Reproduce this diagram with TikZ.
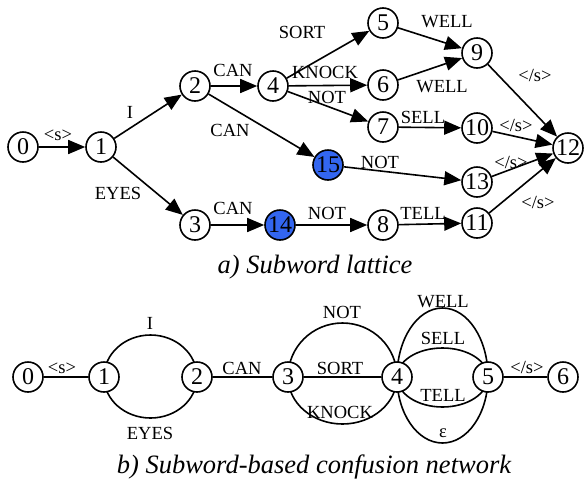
\documentclass[tikz,border=0pt]{standalone}
\usepackage{fontspec}
\setmainfont{Liberation Serif}
\usetikzlibrary{arrows.meta,backgrounds}
\definecolor{nodeblue}{RGB}{51,102,240}
\begin{document}
\begin{tikzpicture}[x=1pt,y=-1pt,
  st/.style={circle,draw,line width=1.6pt,fill=white,minimum size=30pt,inner sep=0pt,font=\fontsize{24}{24}\selectfont},
  bl/.style={st,fill=nodeblue},
  arr/.style={line width=1.6pt,-{Triangle[length=17pt,width=14pt]}},
  ln/.style={line width=1.6pt},
  lab/.style={font=\fontsize{18.5}{18.5}\selectfont,inner sep=0pt},
  captxt/.style={font=\fontsize{26.5}{27}\selectfont\itshape,inner sep=0pt}]
\useasboundingbox (0,0) rectangle (584,488);
% ---------- a) lattice ----------
\node[st] (a0) at (23,147) {0};
\node[st] (a1) at (101,147) {1};
\node[st] (a2) at (195,86) {2};
\node[st] (a3) at (195,225) {3};
\node[st] (a4) at (273,86) {4};
\node[bl] (a14) at (280,225) {14};
\node[bl] (a15) at (328,165) {15};
\node[st] (a5) at (383,23) {5};
\node[st] (a6) at (383,85) {6};
\node[st] (a7) at (383,127) {7};
\node[st] (a8) at (383,225) {8};
\node[st] (a9) at (477,53) {9};
\node[st] (a10) at (477,128) {10};
\node[st] (a13) at (477,182) {13};
\node[st] (a11) at (477,223) {11};
\node[st] (a12) at (568,148) {12};

\draw[arr] (a0) -- (a1);
\draw[arr] (a1) -- (a2);
\draw[arr] (a1) -- (a3);
\draw[arr] (a2) -- (a4);
\draw[arr] (a2) -- (a15);
\draw[arr] (a3) -- (a14);
\draw[arr] (a4) -- (a5);
\draw[arr] (a4) -- (a6);
\draw[arr] (a4) -- (a7);
\draw[arr] (a5) -- (a9);
\draw[arr] (a6) -- (a9);
\draw[arr] (a7) -- (a10);
\draw[arr] (a15) -- (a13);
\draw[arr] (a14) -- (a8);
\draw[arr] (a8) -- (a11);
\draw[arr] (a9) -- (a12);
\draw[arr] (a10) -- (a12);
\draw[arr] (a13) -- (a12);
\draw[arr] (a11) -- (a12);

\node[lab] (la01) at (58,135) {\textless s\textgreater};
\node[lab] (la12) at (130,112) {I};
\node[lab] (la13) at (118,193) {EYES};
\node[lab] (la24) at (233,70) {CAN};
\node[lab] (la215) at (230,130) {CAN};
\node[lab] (la314) at (233,208) {CAN};
\node[lab] (la45) at (302,32) {SORT};
\node[lab] (la46) at (325,72) {KNOCK};
\node[lab] (la47) at (327,97) {NOT};
\node[lab] (la59) at (447,22) {WELL};
\node[lab] (la69) at (442,87) {WELL};
\node[lab] (la710) at (423,117) {SELL};
\node[lab] (la1513) at (380,162) {NOT};
\node[lab] (la148) at (327,213) {NOT};
\node[lab] (la811) at (423,213) {TELL};
\node[lab] (la912) at (535,75) {\textless/s\textgreater};
\node[lab] (la1012) at (516,125) {\textless/s\textgreater};
\node[lab] (la1312) at (511,162) {\textless/s\textgreater};
\node[lab] (la1112) at (538,202) {\textless/s\textgreater};
\node[captxt] (capa) at (315,267) {a) Subword lattice};
% ---------- b) confusion network ----------
\node[st] (b0) at (28,377) {0};
\node[st] (b1) at (104,377) {1};
\node[st] (b2) at (197,377) {2};
\node[st] (b3) at (288,377) {3};
\node[st] (b4) at (397,377) {4};
\node[st] (b5) at (488,377) {5};
\node[st] (b6) at (563,377) {6};
\begin{pgfonlayer}{background}
\draw[ln] (b0) -- (b1);
\draw[ln] (b2) -- (b3);
\draw[ln] (b3) -- (b4);
\draw[ln] (b5) -- (b6);
\draw[ln] (b1.center) arc[start angle=180,end angle=0,x radius=46.5pt,y radius=42pt];
\draw[ln] (b1.center) arc[start angle=180,end angle=360,x radius=46.5pt,y radius=41pt];
\draw[ln] (b3.center) arc[start angle=180,end angle=0,x radius=54.5pt,y radius=54pt];
\draw[ln] (b3.center) arc[start angle=180,end angle=360,x radius=54.5pt,y radius=47pt];
\draw[ln] (b4.center) arc[start angle=180,end angle=0,x radius=45.5pt,y radius=69pt];
\draw[ln] (b4.center) arc[start angle=180,end angle=0,x radius=45.5pt,y radius=29pt];
\draw[ln] (b4.center) arc[start angle=180,end angle=360,x radius=45.5pt,y radius=30pt];
\draw[ln] (b4.center) arc[start angle=180,end angle=360,x radius=45.5pt,y radius=66pt];
\end{pgfonlayer}
\node[lab] (lb01) at (62,368) {\textless s\textgreater};
\node[lab] (lb12a) at (150,323) {I};
\node[lab] (lb12b) at (150,433) {EYES};
\node[lab] (lb23) at (242,368) {CAN};
\node[lab] (lb34a) at (342,312) {NOT};
\node[lab] (lb34b) at (340,368) {SORT};
\node[lab] (lb34c) at (340,412) {KNOCK};
\node[lab] (lb45a) at (443,302) {WELL};
\node[lab] (lb45b) at (443,338) {SELL};
\node[lab] (lb45c) at (443,395) {TELL};
\node[lab] (lb45d) at (443,433) {ε};
\node[lab] (lb56) at (527,367) {\textless/s\textgreater};
\node[captxt] (capb) at (314,467) {b) Subword-based confusion network};
\end{tikzpicture}
\end{document}
